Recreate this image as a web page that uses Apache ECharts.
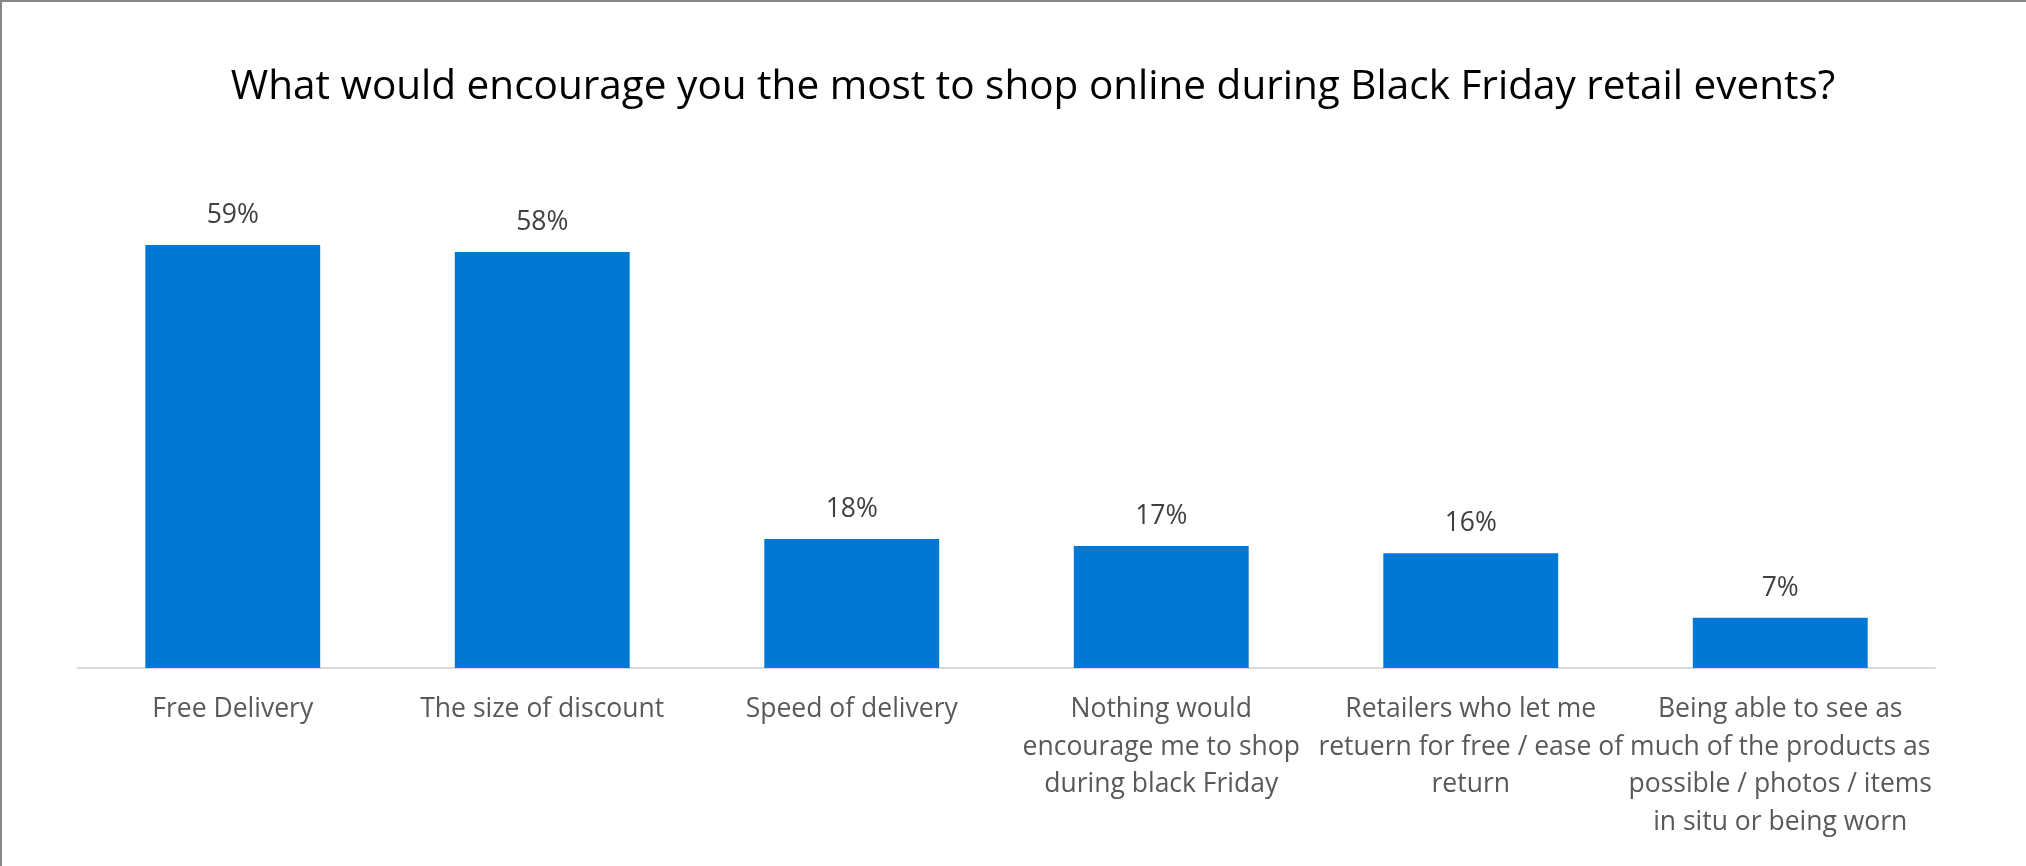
<!DOCTYPE html>
<html>
<head>
<meta charset="utf-8">
<title>Black Friday online shopping motivators</title>
<script src="https://cdn.jsdelivr.net/npm/echarts@6/dist/echarts.min.js"></script>
<style>
  html, body { margin: 0; padding: 0; background: #ffffff; }
  #chart { width: 2026px; height: 866px; }
</style>
</head>
<body>
<div id="chart"></div>
<script>
// Survey answers (share of respondents, %)
const categories = [
  'Free Delivery',
  'The size of discount',
  'Speed of delivery',
  'Nothing would\nencourage me to shop\nduring black Friday',
  'Retailers who let me\nretuern for free / ease of\nreturn',
  'Being able to see as\nmuch of the products as\npossible / photos / items\nin situ or being worn'
];
const shares = [59, 58, 18, 17, 16, 7];

const titleText = 'What would encourage you the most to shop online during Black Friday retail events?';
const FONT = '"Open Sans", "Noto Sans", sans-serif';

const chart = echarts.init(document.getElementById('chart'), null, { renderer: 'canvas' });

chart.setOption({
  backgroundColor: '#ffffff',
  animation: false,
  title: {
    text: titleText,
    left: 1028,
    textAlign: 'center',
    top: 62,
    textStyle: { fontFamily: FONT, fontSize: 40.5, fontWeight: 'normal', color: '#000000' }
  },
  grid: { left: 78, right: 91, top: 166, bottom: 198, containLabel: false },
  xAxis: {
    type: 'category',
    data: categories,
    axisLine: { show: true, lineStyle: { color: '#d9d9d9', width: 2 } },
    axisTick: { show: false },
    axisLabel: {
      interval: 0,
      margin: 23,
      fontFamily: FONT,
      fontSize: 26.5,
      lineHeight: 37.5,
      color: '#595959',
      align: 'center'
    }
  },
  yAxis: {
    type: 'value',
    min: 0,
    max: 70,
    show: false,
    splitLine: { show: false }
  },
  series: [{
    type: 'bar',
    data: shares,
    barCategoryGap: '43.5%',
    itemStyle: { color: '#0078d4' },
    label: {
      show: true,
      position: 'top',
      distance: 16,
      formatter: p => p.value + '%',
      fontFamily: FONT,
      fontSize: 26.5,
      color: '#404040'
    }
  }],
  graphic: [
    { type: 'line', shape: { x1: 0, y1: 1, x2: 2026, y2: 1 }, style: { stroke: '#868686', lineWidth: 2 } },
    { type: 'line', shape: { x1: 1, y1: 0, x2: 1, y2: 866 }, style: { stroke: '#868686', lineWidth: 2 } }
  ]
});
</script>
</body>
</html>
